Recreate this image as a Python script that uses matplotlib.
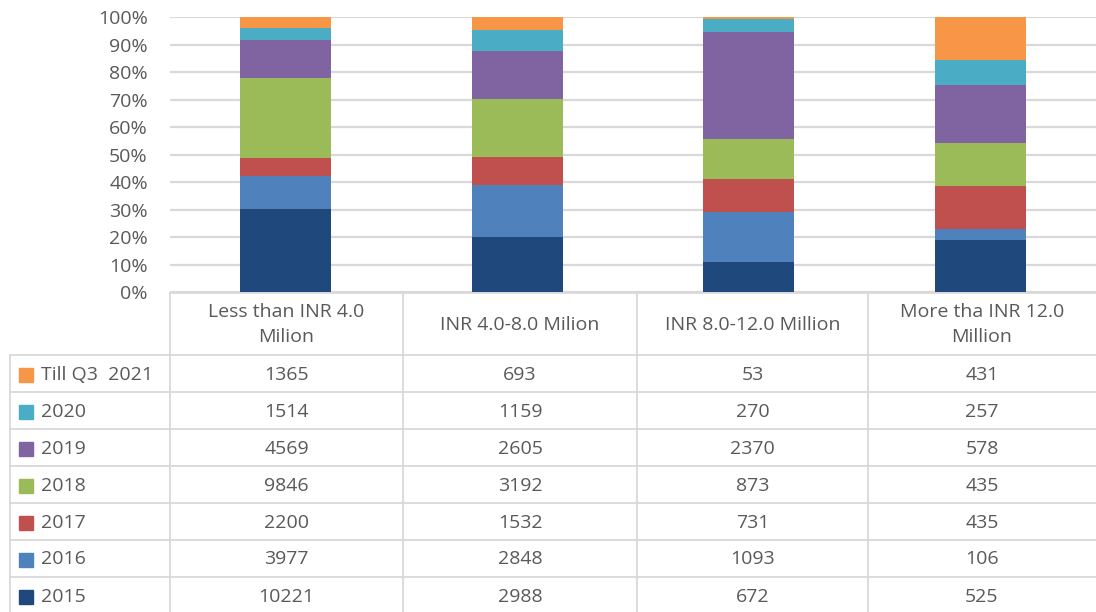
import numpy as np
import matplotlib.pyplot as plt

categories = ["Less than INR 4.0\nMilion", "INR 4.0-8.0 Milion",
              "INR 8.0-12.0 Million", "More tha INR 12.0\nMillion"]
series = ["2015", "2016", "2017", "2018", "2019", "2020", "Till Q3  2021"]
v2015 = [10221, 2988, 672, 525]
v2016 = [3977, 2848, 1093, 106]
v2017 = [2200, 1532, 731, 435]
v2018 = [9846, 3192, 873, 435]
v2019 = [4569, 2605, 2370, 578]
v2020 = [1514, 1159, 270, 257]
vq3_2021 = [1365, 693, 53, 431]
colors = ["#1F497D", "#4F81BD", "#C0504D", "#9BBB59", "#8064A2", "#4BACC6", "#F79646"]

plt.rcParams['font.family'] = ['Open Sans', 'DejaVu Sans']
txt = "#595959"
grid = "#D9D9D9"
fs = 14

W, H = 1096, 612
fig = plt.figure(figsize=(W / 100, H / 100), dpi=100)

# plot area in pixels
x0, x1, ytop, ybot = 170, 1096, 17, 292
ax = fig.add_axes([x0 / W, 1 - ybot / H, (x1 - x0) / W, (ybot - ytop) / H])

data = np.array([v2015, v2016, v2017, v2018, v2019, v2020, vq3_2021], dtype=float)
pct = data / data.sum(axis=0) * 100
x = np.arange(len(categories))
bottom = np.zeros(len(categories))
for i, s in enumerate(series):
    ax.bar(x, pct[i], bottom=bottom, width=0.395, color=colors[i], zorder=3)
    bottom += pct[i]

ax.set_xlim(-0.5, len(categories) - 0.5)
ax.set_ylim(0, 100)
ax.set_yticks(np.arange(0, 101, 10))
ax.set_yticklabels([f"{t}%" for t in range(0, 101, 10)], color=txt, fontsize=fs)
ax.tick_params(axis='y', length=0, pad=16)
ax.set_xticks([])
ax.grid(axis='y', color=grid, linewidth=1.6, zorder=0)
for sp in ax.spines.values():
    sp.set_visible(False)

# data table below the plot
tab = fig.add_axes([0, 0, 1, 1 - ybot / H])
tab.set_xlim(0, W)
tab.set_ylim(H, ybot)
tab.axis('off')
col_edges = [x0, 403, 637, 868, x1]
head_bot = 355
row_h = 37
lw = 1.3
tab.plot([x0, x1], [ybot, ybot], color=grid, lw=2)
for xe in col_edges[:-1]:
    tab.plot([xe, xe], [ybot, H], color=grid, lw=lw)
tab.plot([10, 10], [head_bot, H], color=grid, lw=lw)
for r in range(len(series) + 1):
    y = head_bot + r * row_h
    tab.plot([10, x1], [y, y], color=grid, lw=lw)

for j, c in enumerate(categories):
    cx = (col_edges[j] + col_edges[j + 1]) / 2
    tab.text(cx, (ybot + head_bot) / 2 + 1, c, ha='center', va='center',
             color=txt, fontsize=fs, linespacing=1.5)

order = list(range(len(series)))[::-1]
for r, i in enumerate(order):
    yc = head_bot + r * row_h + row_h / 2 + 1
    tab.add_patch(plt.Rectangle((19, yc - 7), 14, 14, color=colors[i]))
    tab.text(41, yc, series[i], ha='left', va='center', color=txt, fontsize=fs)
    for j in range(len(categories)):
        cx = (col_edges[j] + col_edges[j + 1]) / 2
        tab.text(cx, yc, f"{int(data[i, j])}", ha='center', va='center',
                 color=txt, fontsize=fs)

fig.savefig("out.png", dpi=100)
